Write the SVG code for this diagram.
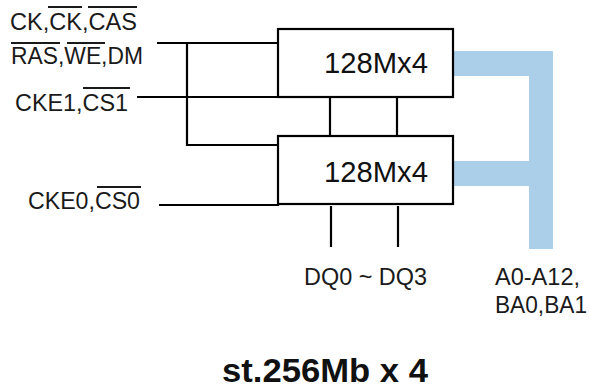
<svg xmlns="http://www.w3.org/2000/svg" width="590" height="388" viewBox="0 0 590 388">
<style>
.lbl{font-family:"Liberation Sans",Arial,sans-serif;font-size:23px;fill:#1a1a1a}
.chip{font-family:"Liberation Sans",Arial,sans-serif;font-size:29px;fill:#111}
.ttl{font-family:"Liberation Sans",Arial,sans-serif;font-size:34px;font-weight:bold;fill:#111}
.w{stroke:#000;stroke-width:2.2;fill:none}
.ov{stroke:#1a1a1a;stroke-width:1.8}
.box{fill:#fff;stroke:#000;stroke-width:2.2}
</style>
<rect width="590" height="388" fill="#fff"/>
<g id="connectors">
<polyline class="w" points="157,43 278,43"/>
<polyline class="w" points="187,43 187,145 278,145"/>
<polyline class="w" points="137,97 278,97"/>
<polyline class="w" points="159,205 278,205 278,204"/>
<line class="w" x1="330" y1="97" x2="330" y2="136"/>
<line class="w" x1="397" y1="97" x2="397" y2="136"/>
<line class="w" x1="331" y1="206" x2="331" y2="247"/>
<line class="w" x1="398" y1="206" x2="398" y2="247"/>
<polygon id="bus" fill="#abcfe8" points="453,51 553,51 553,249 529,249 529,186 453,186 453,161 529,161 529,76 453,76"/>
</g>
<g id="chip1">
<rect class="box" x="278" y="29" width="175" height="68"/>
<text class="chip" x="324" y="73" textLength="104" lengthAdjust="spacingAndGlyphs">128Mx4</text>
</g>
<g id="chip0">
<rect class="box" x="278" y="136" width="175" height="68"/>
<text class="chip" x="324" y="182" textLength="104" lengthAdjust="spacingAndGlyphs">128Mx4</text>
</g>
<g id="lbl-ck">
<text class="lbl" x="10" y="30" textLength="127" lengthAdjust="spacingAndGlyphs">CK,CK,CAS</text>
<line class="ov" x1="48" y1="7" x2="82" y2="7"/>
<line class="ov" x1="88" y1="7" x2="137" y2="7"/>
</g>
<g id="lbl-ras">
<text class="lbl" x="11" y="64" textLength="132" lengthAdjust="spacingAndGlyphs">RAS,WE,DM</text>
<line class="ov" x1="11" y1="43" x2="60" y2="43"/>
<line class="ov" x1="67" y1="43" x2="105" y2="43"/>
</g>
<g id="lbl-cke1">
<text class="lbl" x="15" y="111" textLength="113" lengthAdjust="spacingAndGlyphs">CKE1,CS1</text>
<line class="ov" x1="83" y1="88" x2="130" y2="88"/>
</g>
<g id="lbl-cke0">
<text class="lbl" x="28" y="209" textLength="112" lengthAdjust="spacingAndGlyphs">CKE0,CS0</text>
<line class="ov" x1="97" y1="187" x2="141" y2="187"/>
</g>
<g id="lbl-dq">
<text class="lbl" x="304" y="285" textLength="123" lengthAdjust="spacingAndGlyphs">DQ0 ~ DQ3</text>
</g>
<g id="lbl-addr">
<text class="lbl" x="495" y="285" textLength="85" lengthAdjust="spacingAndGlyphs">A0-A12,</text>
<text class="lbl" x="495" y="313" textLength="92" lengthAdjust="spacingAndGlyphs">BA0,BA1</text>
</g>
<g id="title">
<text class="ttl" x="222" y="382" textLength="206" lengthAdjust="spacingAndGlyphs">st.256Mb x 4</text>
</g>
</svg>
